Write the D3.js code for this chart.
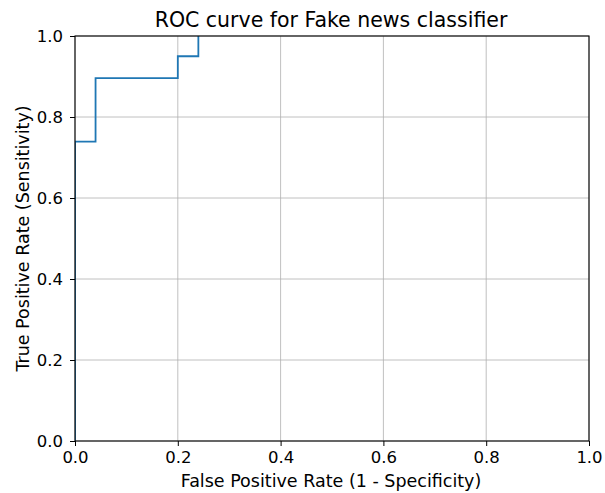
<!DOCTYPE html>
<html>
<head>
<meta charset="utf-8">
<script src="https://cdn.jsdelivr.net/npm/d3@7"></script>
<style>
  body { margin: 0; background: #fff; }
  text { font-family: "DejaVu Sans", sans-serif; fill: #000; }
</style>
</head>
<body>
<svg id="roc"></svg>
<script>
// ROC curve points (step shape)
var fpr = [0, 0, 0.04, 0.04, 0.2, 0.2, 0.24, 0.24];
var tpr = [0, 0.739, 0.739, 0.896, 0.896, 0.95, 0.95, 1.0];
var ticks = [0, 0.2, 0.4, 0.6, 0.8, 1.0];

var margin = {left: 75, top: 36, right: 16, bottom: 52};
var width = 605 - margin.left - margin.right;
var height = 493 - margin.top - margin.bottom;

var svg = d3.select("#roc")
    .attr("width", 605)
    .attr("height", 493);

var g = svg.append("g")
    .attr("transform", "translate(" + margin.left + "," + margin.top + ")");

var x = d3.scaleLinear().domain([0, 1]).range([0, width]);
var y = d3.scaleLinear().domain([0, 1]).range([height, 0]);

// grid
g.append("g").selectAll("line").data(ticks).enter().append("line")
    .attr("x1", d => x(d)).attr("x2", d => x(d))
    .attr("y1", 0).attr("y2", height)
    .attr("stroke", "#b0b0b0").attr("stroke-width", 0.8);
g.append("g").selectAll("line").data(ticks).enter().append("line")
    .attr("y1", d => y(d)).attr("y2", d => y(d))
    .attr("x1", 0).attr("x2", width)
    .attr("stroke", "#b0b0b0").attr("stroke-width", 0.8);

g.append("clipPath").attr("id", "clip")
    .append("rect").attr("width", width).attr("height", height);

var line = d3.line().x(d => x(d[0])).y(d => y(d[1]));
g.append("path")
    .datum(d3.zip(fpr, tpr))
    .attr("clip-path", "url(#clip)")
    .attr("fill", "none")
    .attr("stroke", "#1f77b4")
    .attr("stroke-width", 1.8)
    .attr("d", line);

var fmt = d3.format(".1f");
var xAxis = g.append("g")
    .attr("transform", "translate(0," + height + ")")
    .call(d3.axisBottom(x).tickValues(ticks).tickFormat(fmt).tickSize(5).tickPadding(5));
var yAxis = g.append("g")
    .call(d3.axisLeft(y).tickValues(ticks).tickFormat(fmt).tickSize(5).tickPadding(7));

[xAxis, yAxis].forEach(a => {
    a.select(".domain").remove();
    a.selectAll("text").style("font-family", "DejaVu Sans").style("font-size", "16.5px").attr("fill", "#000");
    a.selectAll("line").attr("stroke", "#000").attr("stroke-width", 1);
});

// spines
g.append("rect")
    .attr("width", width).attr("height", height)
    .attr("fill", "none").attr("stroke", "#000").attr("stroke-width", 1.1);

svg.append("text")
    .attr("x", margin.left + width / 2 - 1).attr("y", 27)
    .attr("text-anchor", "middle")
    .style("font-size", "20.5px")
    .text("ROC curve for Fake news classifier");

svg.append("text")
    .attr("x", margin.left + width / 2 - 1).attr("y", 487)
    .attr("text-anchor", "middle")
    .style("font-size", "17.5px")
    .text("False Positive Rate (1 - Specificity)");

svg.append("text")
    .attr("transform", "translate(29," + (margin.top + height / 2) + ") rotate(-90)")
    .attr("text-anchor", "middle")
    .style("font-size", "17.5px")
    .text("True Positive Rate (Sensitivity)");
</script>
</body>
</html>
